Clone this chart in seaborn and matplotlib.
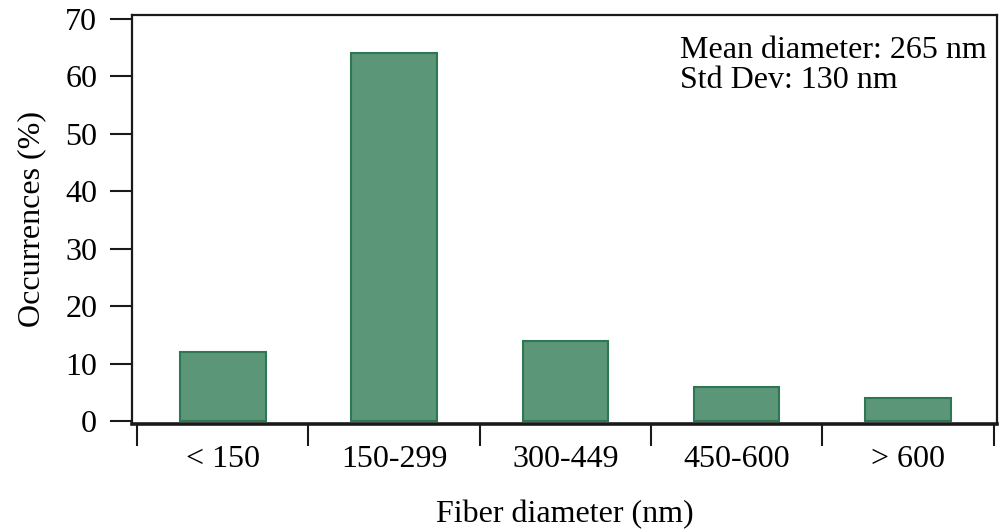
import seaborn as sns
import pandas as pd
from matplotlib import pyplot as plt
from matplotlib.ticker import FixedLocator

categories = ['< 150', '150-299', '300-449', '450-600', '> 600']
occurrences = [12, 64, 14, 6, 4]
y_ticks = [0, 10, 20, 30, 40, 50, 60, 70]

df = pd.DataFrame({'diameter': categories, 'occ': occurrences})

sns.set_style('ticks')
plt.rcParams['font.family'] = ['Liberation Serif', 'DejaVu Serif']
plt.rcParams['text.color'] = 'black'
plt.rcParams['axes.labelcolor'] = 'black'
plt.rcParams['xtick.color'] = 'black'
plt.rcParams['ytick.color'] = 'black'

fig = plt.figure(figsize=(9.99, 5.31), dpi=100)
ax = fig.add_axes([0.1321, 0.2015, 0.8659, 0.7703])

sns.barplot(x='diameter', y='occ', data=df, width=0.5, color='#5c9679',
            saturation=1, edgecolor='#2e7752', linewidth=1.5, ax=ax)

ax.set_xlim(-0.53, 4.52)
ax.set_ylim(-0.5, 70.7)

for s in ax.spines.values():
    s.set_visible(True)
    s.set_linewidth(1.6)
    s.set_color('#1a1a1a')
ax.spines['bottom'].set_linewidth(2.6)

# boundaries get the long tick marks, labels sit at the bar centres
ax.xaxis.set_major_locator(FixedLocator([i - 0.5 for i in range(len(categories) + 1)]))
ax.set_xticklabels([])
ax.set_xticks(range(len(categories)), labels=categories, minor=True)
ax.tick_params(axis='x', which='major', direction='out', length=16, width=1.5,
               color='#1a1a1a')
ax.tick_params(axis='x', which='minor', length=0, pad=15, labelsize=23,
               labelcolor='black')

ax.set_yticks(y_ticks)
ax.tick_params(axis='y', direction='out', length=16, width=1.5, color='#1a1a1a',
               pad=9, labelsize=23, labelcolor='black')

ax.set_xlabel('Fiber diameter (nm)', fontsize=23, labelpad=19)
ax.set_ylabel('Occurrences (%)', fontsize=23, labelpad=14)

ax.text(0.633, 0.895, 'Mean diameter: 265 nm', transform=ax.transAxes,
        fontsize=23, ha='left', va='baseline')
ax.text(0.633, 0.822, 'Std Dev: 130 nm', transform=ax.transAxes,
        fontsize=23, ha='left', va='baseline')

plt.savefig('out.png', dpi=100)
